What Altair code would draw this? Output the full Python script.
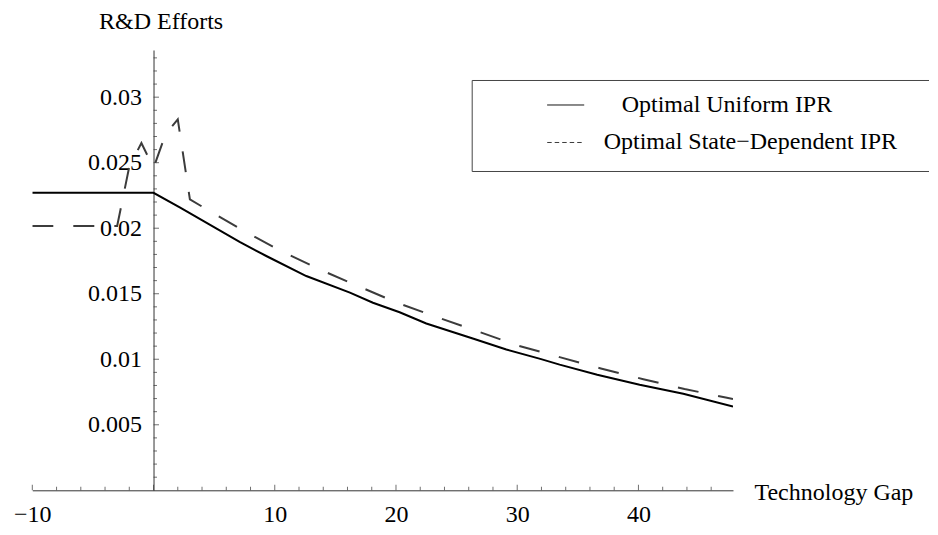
import altair as alt
import pandas as pd

# ---------------- data ----------------
series_names = ["Optimal Uniform IPR", "Optimal State\u2212Dependent IPR"]

x_uniform = [-10, 0, 2.2, 7.1, 9.3, 12.6, 16.2, 18.1, 20.3, 22.5, 26.4, 29.1,
             31.9, 33.5, 36.6, 40.1, 43.7, 47.8]
y_uniform = [0.0227, 0.0227, 0.02158, 0.01895, 0.01788, 0.01635, 0.01508,
             0.01431, 0.01359, 0.01273, 0.01156, 0.01074, 0.01003, 0.00959,
             0.00882, 0.00806, 0.00737, 0.0064]

x_state = [-10, -3, -2, -1, 0, 1, 2, 3, 4.3, 7.4, 10.4, 13.7, 16.9, 20.1,
           23.4, 26.7, 30.0, 33.5, 36.9, 40.4, 43.8, 47.2, 47.8]
y_state = [0.02017, 0.02017, 0.0247, 0.0265, 0.0246, 0.0272, 0.0283, 0.0222,
           0.02149, 0.01982, 0.01831, 0.01686, 0.01557, 0.01431, 0.01321,
           0.01214, 0.01106, 0.01016, 0.0093, 0.00848, 0.00773, 0.00708,
           0.00697]

x_label_values = [-10, 10, 20, 30, 40]
y_label_values = [0.005, 0.01, 0.015, 0.02, 0.025, 0.03]
x_major_ticks = [-10, 0, 10, 20, 30, 40]
x_minor_ticks = [-8, -6, -4, -2, 2, 4, 6, 8, 12, 14, 16, 18, 22, 24, 26, 28,
                 32, 34, 36, 38, 42, 44, 46]
y_major_ticks = [0.005, 0.01, 0.015, 0.02, 0.025, 0.03]
y_minor_ticks = [0.001, 0.002, 0.003, 0.004, 0.006, 0.007, 0.008, 0.009,
                 0.011, 0.012, 0.013, 0.014, 0.016, 0.017, 0.018, 0.019,
                 0.021, 0.022, 0.023, 0.024, 0.026, 0.027, 0.028, 0.029,
                 0.031, 0.032, 0.033]

X_DOMAIN = [-10, 47.8]
Y_DOMAIN = [0, 0.0336]

# ---------------- layout ----------------
W, H = 700.7, 440.3
FONT = "Liberation Serif"
FS = 24
AXIS_COLOR = "#333333"
DASH_COLOR = "#3c3c3c"
Y_AXIS_OFFSET = -W * (0 - X_DOMAIN[0]) / (X_DOMAIN[1] - X_DOMAIN[0])

df_u = pd.DataFrame({"x": x_uniform, "y": y_uniform, "series": series_names[0]})
df_s = pd.DataFrame({"x": x_state, "y": y_state, "series": series_names[1]})
df_all = pd.concat([df_u, df_s], ignore_index=True)

xs = alt.Scale(domain=X_DOMAIN, nice=False, zero=False)
ys = alt.Scale(domain=Y_DOMAIN, nice=False, zero=False)

x_axis = alt.Axis(
    values=x_label_values, ticks=False, grid=False, domain=True,
    domainColor=AXIS_COLOR, domainWidth=1,
    labelFont=FONT, labelFontSize=FS, labelColor="black", labelPadding=12.5,
    labelFlush=False, labelOverlap=False,
    title="Technology Gap", titleFont=FONT, titleFontSize=FS,
    titleFontWeight="normal", titleColor="black", titleAngle=0,
    titleAlign="left", titleBaseline="alphabetic", titleX=721.7, titleY=9,
)
y_axis = alt.Axis(
    values=y_label_values, format=".3~f", ticks=False, grid=False,
    domain=True, domainColor=AXIS_COLOR, domainWidth=1,
    offset=Y_AXIS_OFFSET,
    labelFont=FONT, labelFontSize=FS, labelColor="black", labelPadding=12,
    labelFlush=False, labelOverlap=False,
    title="R&D Efforts", titleFont=FONT, titleFontSize=FS,
    titleFontWeight="normal", titleColor="black", titleAngle=0,
    titleAlign="left", titleBaseline="alphabetic", titleX=-55, titleY=-21.5,
)

nbsp = "\u00a0"
zwsp = "\u200b"
lead = zwsp + nbsp * 3
legend = alt.Legend(
    # blank spacer title on the right: widens/deepens the framed box
    title=zwsp + nbsp + zwsp, titleOrient="right", titleFontSize=80,
    titlePadding=4, titleAnchor="start",
    orient="none", legendX=439.4, legendY=30,
    padding=6, strokeColor="#444444", fillColor="white",
    symbolType="stroke", symbolSize=1369, symbolStrokeWidth=1,
    symbolOffset=69, labelOffset=19,
    labelFont=FONT, labelFontSize=FS, labelColor="black", labelLimit=0,
    rowPadding=6.5,
    labelExpr=f"(datum.label === '{series_names[0]}' ? '{lead}' : '') + datum.label",
)

# plotted curves
line_u = alt.Chart(df_u).mark_line(strokeWidth=2, clip=True, color="black").encode(
    x=alt.X("x:Q", scale=xs, axis=x_axis),
    y=alt.Y("y:Q", scale=ys, axis=y_axis),
)
line_s = alt.Chart(df_s).mark_line(strokeWidth=2, clip=True, color=DASH_COLOR,
                                   strokeDash=[21, 20]).encode(
    x=alt.X("x:Q", scale=xs),
    y=alt.Y("y:Q", scale=ys),
)

# legend-only layer (no rows drawn): fine-dash key, as in the reference box
legend_layer = alt.Chart(df_all).transform_filter("false").mark_line(
    strokeWidth=1, clip=True).encode(
    x=alt.X("x:Q", scale=xs),
    y=alt.Y("y:Q", scale=ys),
    color=alt.Color("series:N",
                    scale=alt.Scale(domain=series_names, range=["#000000", DASH_COLOR]),
                    legend=legend),
    strokeDash=alt.StrokeDash("series:N",
                              scale=alt.Scale(domain=series_names, range=[[1, 0], [4.5, 3]]),
                              legend=legend),
)

def x_ticks(values, size):
    return alt.Chart(pd.DataFrame({"x": values})).mark_tick(
        orient="vertical", size=size, thickness=1, yOffset=-size / 2,
        color=AXIS_COLOR,
    ).encode(x=alt.X("x:Q", scale=xs), y=alt.datum(0))

def y_ticks(values, size):
    return alt.Chart(pd.DataFrame({"y": values})).mark_tick(
        orient="horizontal", size=size, thickness=1, xOffset=size / 2,
        color=AXIS_COLOR,
    ).encode(y=alt.Y("y:Q", scale=ys), x=alt.datum(0))

chart = alt.layer(
    x_ticks(x_major_ticks, 5.5), x_ticks(x_minor_ticks, 3.5),
    y_ticks(y_major_ticks, 5.5), y_ticks(y_minor_ticks, 3.5),
    line_u, line_s, legend_layer,
).properties(
    width=W, height=H,
    autosize=alt.AutoSizeParams(type="none"),
    padding={"left": 24.3, "top": 42, "right": 196, "bottom": 37.5},
).configure(background="white").configure_view(stroke=None)

chart.save("out.html", embed_options={"renderer": "svg", "actions": False})
